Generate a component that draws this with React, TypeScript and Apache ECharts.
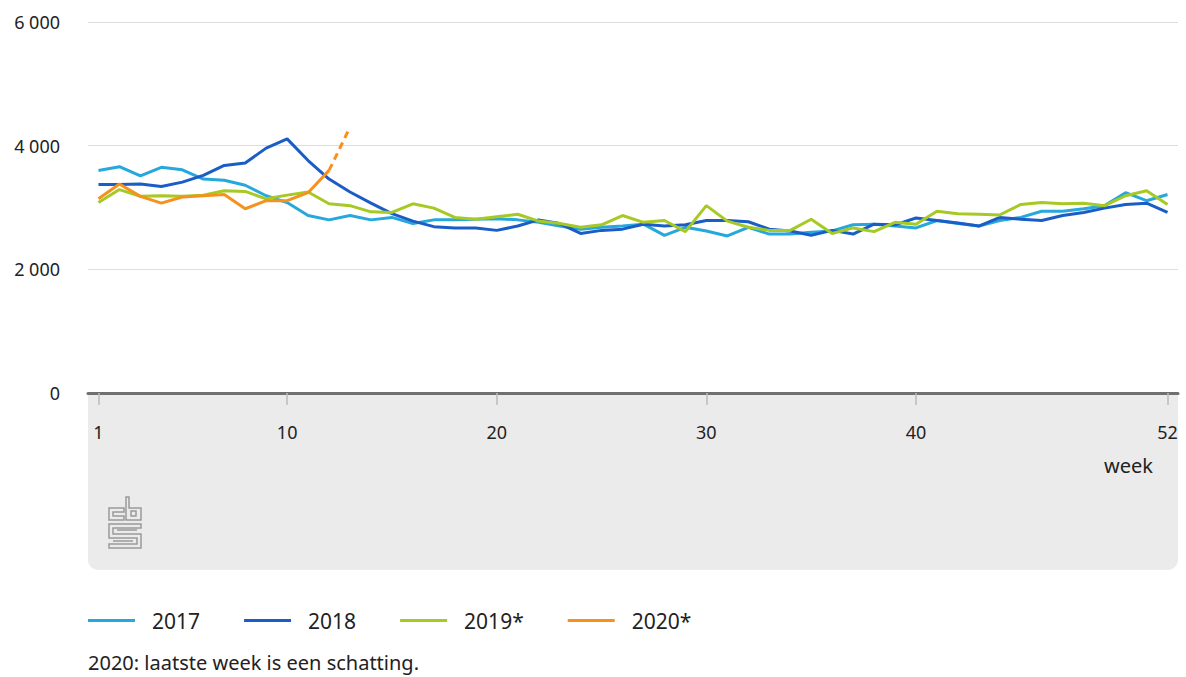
import React, { useEffect, useRef } from "react";
import * as echarts from "echarts";

const weeks: string[] = Array.from({ length: 52 }, (_, i) => String(i + 1));
const shownWeeks = ["1", "10", "20", "30", "40", "52"];

const y2017 = [3600, 3660, 3510, 3650, 3610, 3460, 3440, 3360, 3190, 3080, 2870, 2800, 2870, 2800, 2840, 2740, 2800, 2800, 2810, 2820, 2800, 2760, 2700, 2650, 2680, 2700, 2730, 2550, 2680, 2620, 2540, 2680, 2570, 2570, 2600, 2620, 2720, 2730, 2700, 2670, 2790, 2740, 2700, 2790, 2840, 2940, 2940, 2980, 3030, 3240, 3110, 3210];
const y2018 = [3370, 3370, 3380, 3340, 3410, 3520, 3680, 3720, 3960, 4110, 3760, 3460, 3250, 3070, 2900, 2780, 2690, 2670, 2670, 2630, 2700, 2800, 2740, 2580, 2630, 2650, 2730, 2700, 2720, 2790, 2790, 2770, 2650, 2620, 2550, 2630, 2570, 2730, 2720, 2830, 2790, 2750, 2700, 2840, 2810, 2790, 2870, 2920, 2990, 3050, 3070, 2920];
const y2019 = [3080, 3290, 3180, 3190, 3180, 3200, 3270, 3260, 3140, 3200, 3250, 3060, 3030, 2930, 2920, 3060, 2990, 2840, 2810, 2850, 2890, 2780, 2740, 2680, 2720, 2870, 2760, 2790, 2610, 3030, 2780, 2680, 2630, 2630, 2810, 2580, 2670, 2610, 2760, 2730, 2940, 2900, 2890, 2880, 3050, 3080, 3060, 3070, 3030, 3190, 3270, 3050];
const y2020 = [3140, 3380, 3180, 3070, 3170, 3190, 3210, 2980, 3110, 3110, 3240, 3600];
const estWeeks = ["12", "13"];
const y2020est = [3600, 4300];

const seriesNames = ["2017", "2018", "2019*", "2020*"];
const colors = ["#27a8dc", "#1a5dc6", "#a6c923", "#f5921e"];
const yTicks = [0, 2000, 4000, 6000];

const FONT = "Noto Sans";

const logoPath =
  "M15 11 L0 11 L0 23 L15 23 L15 19 L4 19 L4 15 L15 15 Z " +
  "M17 0 L20 0 L20 11 L32 11 L32 23 L17 23 Z M22 14 L27 14 L27 19 L22 19 Z " +
  "M0 27 L32 27 L32 31 L4 31 L4 37 L32 37 L32 51 L0 51 L0 47 L28 47 L28 41 L0 41 Z " +
  "M8 33 L28 33 M4 44 L24 44";

let registered = false;

export default function App() {
  const ref = useRef<HTMLDivElement>(null);
  useEffect(() => {
    if (!ref.current) return;
    if (!registered) {
      echarts.graphic.registerShape("cbslogo", echarts.graphic.extendPath(logoPath, {}));
      registered = true;
    }
    const chart = echarts.init(ref.current, null, { renderer: "svg" });
    const fmt = (v: number) => {
      const s = String(Math.round(v));
      return s.length > 3 ? s.slice(0, s.length - 3) + " " + s.slice(-3) : s;
    };
    const lineSeries = (name: string, data: any[], color: string, z: number) => ({
      name,
      type: "line",
      data,
      symbol: "none",
      z,
      lineStyle: { color, width: 3 },
      itemStyle: { color },
    });
    chart.setOption({
      animation: false,
      textStyle: { fontFamily: FONT },
      grid: { left: 88, right: 8, top: 22, bottom: 284, containLabel: false },
      legend: {
        data: seriesNames,
        left: 88,
        top: 610,
        padding: 0,
        icon: "rect",
        itemWidth: 47,
        itemHeight: 3,
        itemGap: 44,
        textStyle: { fontFamily: FONT, fontSize: 21, color: "#222", padding: [0, 0, 0, 12] },
      },
      graphic: [
        {
          type: "rect",
          shape: { x: 88, y: 394, width: 1090, height: 176, r: [0, 0, 10, 10] },
          style: { fill: "#ebebeb" },
          z: -10,
          silent: true,
        },
        {
          type: "cbslogo",
          x: 109,
          y: 497,
          scaleX: 1,
          scaleY: 1,
          style: { fill: "none", stroke: "#9a9a9a", lineWidth: 1.5 },
          z: 10,
        },
        {
          type: "text",
          left: 1104,
          top: 455,
          style: { text: "week", font: `20px "${FONT}"`, fill: "#222" },
          z: 10,
        },
        {
          type: "text",
          left: 88,
          top: 652,
          style: { text: "2020: laatste week is een schatting.", font: `20px "${FONT}"`, fill: "#222" },
        },
      ],
      xAxis: {
        type: "category",
        data: weeks,
        boundaryGap: true,
        axisLine: { show: true, lineStyle: { color: "#707070", width: 3 } },
        axisTick: {
          show: true,
          alignWithLabel: true,
          length: 12,
          lineStyle: { color: "#bbbbbb", width: 1.5 },
          interval: (i: number, v: string) => shownWeeks.includes(v),
        },
        axisLabel: {
          interval: (i: number, v: string) => shownWeeks.includes(v),
          margin: 30,
          fontSize: 18,
          color: "#222",
          fontFamily: FONT,
        },
        splitLine: { show: false },
        z: 5,
      },
      yAxis: {
        type: "value",
        min: yTicks[0],
        max: yTicks[yTicks.length - 1],
        interval: 2000,
        axisLine: { show: false },
        axisTick: { show: false },
        axisLabel: { formatter: fmt, fontSize: 18, color: "#222", margin: 28, fontFamily: FONT },
        splitLine: { lineStyle: { color: "#dddddd", width: 1 } },
      },
      series: [
        lineSeries(seriesNames[0], y2017, colors[0], 2),
        lineSeries(seriesNames[1], y2018, colors[1], 3),
        lineSeries(seriesNames[2], y2019, colors[2], 4),
        lineSeries(seriesNames[3], y2020, colors[3], 5),
        {
          name: "2020 schatting",
          type: "line",
          data: estWeeks.map((w, i) => [w, y2020est[i]]),
          symbol: "none",
          z: 5,
          lineStyle: { color: colors[3], width: 3, type: [7, 5] },
          itemStyle: { color: colors[3] },
        },
      ],
    });
    return () => chart.dispose();
  }, []);
  return (
    <div
      ref={ref}
      style={{ position: "fixed", left: 0, top: 0, width: 1186, height: 677, background: "#fff" }}
    />
  );
}
